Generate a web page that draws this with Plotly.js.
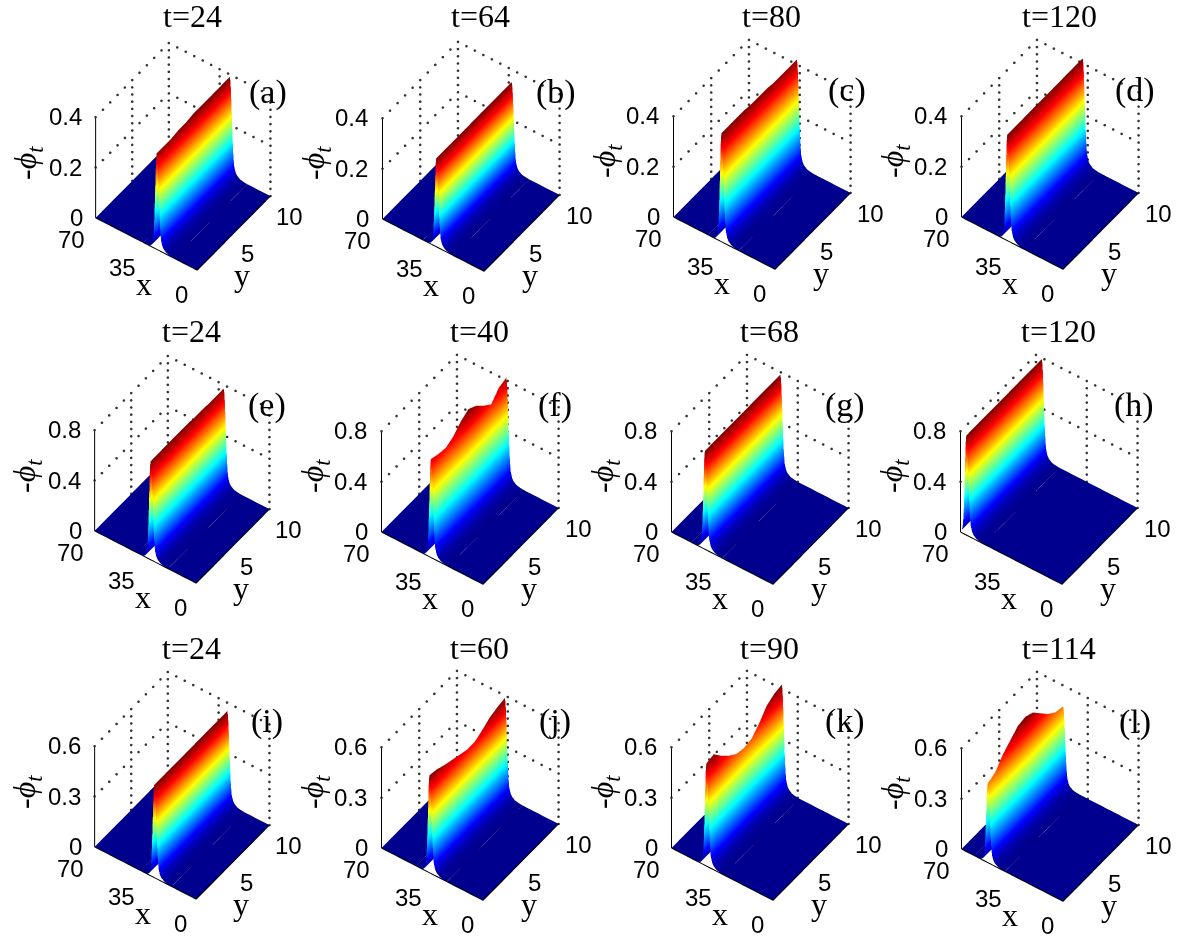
<!DOCTYPE html>
<html><head><meta charset="utf-8">
<script src="https://cdn.plot.ly/plotly-3.0.1.min.js"></script>
<style>html,body{margin:0;padding:0;background:#fff}</style></head>
<body><div id="plot" style="width:1180px;height:937px"></div>
<script>
const panelLetters=['(a)','(b)','(c)','(d)','(e)','(f)','(g)','(h)','(i)','(j)','(k)','(l)'];
const panelTimes=['t=24','t=64','t=80','t=120','t=24','t=40','t=68','t=120','t=24','t=60','t=90','t=114'];
const originX=[96,384,675,963,95,383,673,962,95,383,673,963];
const originY=[217,217,215,215,530,530,530,530,846,846,846,847];
const titleRowY=[16,331,648];
const zTops=[0.4,0.4,0.4,0.4,0.8,0.8,0.8,0.8,0.6,0.6,0.6,0.6];
const zMidLabels=['0.2','0.2','0.2','0.2','0.4','0.4','0.4','0.4','0.3','0.3','0.3','0.3'];
const zTopLabels=['0.4','0.4','0.4','0.4','0.8','0.8','0.8','0.8','0.6','0.6','0.6','0.6'];
const ridgeX=[28,33,37,38.5,31.5,36,47,66,29,37,46,52];
const yGrid=[0,1,2,3,4,5,6,7,8,9,10];
const heightA=[.38,.38,.38,.385,.385,.39,.39,.39,.39,.39,.39];
const heightB=[.35,.35,.35,.35,.35,.35,.35,.35,.35,.35,.35];
const heightC=[.43,.43,.43,.43,.425,.425,.425,.42,.42,.42,.42];
const heightD=[.42,.42,.42,.42,.42,.42,.42,.42,.42,.42,.42];
const heightE=[.78,.78,.78,.78,.78,.78,.775,.775,.77,.77,.77];
const heightF=[.78,.76,.75,.78,.84,.875,.84,.78,.73,.8,.82];
const heightG=[.78,.78,.78,.78,.78,.78,.78,.78,.78,.78,.78];
const heightH=[.79,.79,.79,.79,.79,.79,.79,.79,.79,.79,.79];
const heightI=[.55,.55,.55,.55,.55,.55,.55,.55,.55,.55,.55];
const heightJ=[.58,.57,.55,.535,.52,.505,.505,.53,.56,.575,.585];
const heightK=[.61,.62,.565,.52,.485,.475,.485,.53,.59,.615,.625];
const heightL=[.47,.49,.55,.59,.63,.64,.62,.57,.52,.485,.475];
const heights=[heightA,heightB,heightC,heightD,heightE,heightF,heightG,heightH,heightI,heightJ,heightK,heightL];
// cross-section of the ridge: offset from crest in x, and height fraction
const sectionOffset=[-12,-9,-7,-5,-4,-3,-2.4,-2,-1.6,-1.2,-.8,-.4,0,.4,.8,1.2,1.6,2,2.5,3,4,6,9];
const sectionShare=[0,.005,.012,.035,.06,.12,.25,.38,.55,.72,.88,.97,1,.93,.72,.5,.3,.16,.07,.03,.01,.002,0];
const aspectYByColumn=[.97,1,1,1];
const jet=[[0,'#00008f'],[.11,'#0000ff'],[.36,'#00ffff'],[.61,'#ffff00'],[.86,'#ff0000'],[1,'#800000']];

const W=1180,H=937,D=260;
const EYE=[.4017,-.5634,.722],R=2.08;
const data=[],layout={width:W,height:H,margin:{l:0,r:0,t:0,b:0},paper_bgcolor:'#fff',showlegend:false,annotations:[]};
const SERIF='"Liberation Serif",serif',SANS='"Liberation Sans",Arial,sans-serif';
const hiddenAxis=r=>({range:r,visible:false,showgrid:false,zeroline:false,showline:false,showticklabels:false,showbackground:false,showspikes:false,title:{text:''}});

panelLetters.forEach((letter,i)=>{
  const id=i?'scene'+(i+1):'scene',col=i%4,row=Math.floor(i/4),ox=originX[i],oy=originY[i],top=zTops[i],c=ridgeX[i],h=heights[i];
  const cx=ox+86.5,cy=oy-73.5;
  const xs=[0];sectionOffset.forEach(o=>{const v=c+o;if(v>xs[xs.length-1]&&v<70)xs.push(v)});xs.push(70);
  const z=yGrid.map((_,j)=>xs.map(x=>{const k=sectionOffset.findIndex(o=>Math.abs(c+o-x)<1e-9);return k<0?0:h[j]*sectionShare[k]}));
  data.push({type:'surface',scene:id,x:xs,y:yGrid,z:z,colorscale:jet,cmin:0,cmax:Math.max(...h),showscale:false,hoverinfo:'skip',
    lighting:{ambient:1,diffuse:0,specular:0,roughness:1,fresnel:0},contours:{x:{show:false},y:{show:false},z:{show:false}}});
  const seg=(pts,w)=>data.push({type:'scatter3d',scene:id,mode:'lines',x:pts.map(p=>p[0]),y:pts.map(p=>p[1]),z:pts.map(p=>p[2]),
    line:{color:'#000',width:w},hoverinfo:'skip',showlegend:false});
  // dotted grid on the two back walls, drawn as separate dots
  const dots=(a,b,n)=>{const X=[],Y=[],Z=[];for(let k=0;k<=n;k++){const t=k/n;X.push(a[0]+(b[0]-a[0])*t);Y.push(a[1]+(b[1]-a[1])*t);Z.push(a[2]+(b[2]-a[2])*t)}
    data.push({type:'scatter3d',scene:id,mode:'markers',x:X,y:Y,z:Z,marker:{color:'#333',size:1.5,line:{width:0}},hoverinfo:'skip',showlegend:false})};
  [top,top/2].forEach(zv=>{dots([70,0,zv],[70,10,zv],10);dots([70,10,zv],[0,10,zv],12)});
  dots([70,5,0],[70,5,top],14);
  dots([70,10,0],[70,10,top],14);
  dots([35,10,0],[35,10,top],14);
  dots([0,10,0],[0,10,top],14);
  seg([[70,0,0],[70,0,top]],2);
  seg([[70,0,0],[0,0,0],[0,10,0]],2);
  const ann=(x,y,zv,text,dx,dy,size,fam)=>({x:x,y:y,z:zv,text:text,showarrow:false,xanchor:'center',yanchor:'middle',xshift:dx,yshift:-dy,font:{size:size,family:fam,color:'#000'}});
  const annotations=[
    ann(70,0,top,zTopLabels[i],-30,0,24,SANS),ann(70,0,top/2,zMidLabels[i],-30,0,24,SANS),ann(70,0,0,'0',-19,0,24,SANS),
    ann(70,0,0,'70',-24,22,24,SANS),ann(35,0,0,'35',-23,24,24,SANS),ann(0,0,0,'0',-15,25,24,SANS),
    ann(0,10,0,'10',20,21,24,SANS),ann(0,5,0,'5',14,21,24,SANS),
    ann(20,0,0,'x',-24,29,32,SERIF),ann(0,3.5,0,'y',20,31,32,SERIF)
  ];
  layout[id]={domain:{x:[(cx-D/2)/W,(cx+D/2)/W],y:[1-(cy+D/2)/H,1-(cy-D/2)/H]},
    xaxis:hiddenAxis([70,0]),yaxis:hiddenAxis([0,10]),zaxis:hiddenAxis([0,top*1.25]),
    aspectmode:'manual',aspectratio:{x:.96,y:aspectYByColumn[col],z:1.40},bgcolor:'#fff',
    camera:{eye:{x:EYE[0]*R,y:EYE[1]*R,z:EYE[2]*R},up:{x:0,y:0,z:1},center:{x:0,y:0,z:0},projection:{type:'orthographic'}},
    annotations:annotations};
  const paper=(px,py,text,size,angle)=>({xref:'paper',yref:'paper',x:px/W,y:1-py/H,text:text,showarrow:false,xanchor:'center',yanchor:'middle',textangle:angle||0,font:{size:size,family:SERIF,color:'#000'}});
  layout.annotations.push(paper(ox+96,titleRowY[row],panelTimes[i],32));
  layout.annotations.push(paper(ox+172,oy-125,letter,34));
  layout.annotations.push(paper(ox-69,oy-54,'<i>-ϕ<sub>t</sub></i>',32,-90));
});
Plotly.newPlot('plot',data,layout,{displayModeBar:false});
</script></body></html>
